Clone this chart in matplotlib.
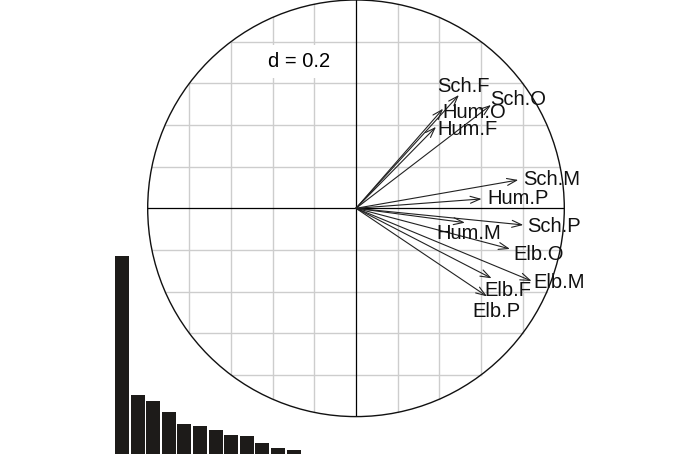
import matplotlib
matplotlib.use("Agg")
import matplotlib.pyplot as plt
import numpy as np
from matplotlib.patches import Circle, FancyArrowPatch

plt.rcParams['font.family'] = ['Liberation Sans', 'DejaVu Sans']

# variable loadings (correlation circle)
noms = ["Sch.F", "Hum.O", "Hum.F", "Sch.O", "Sch.M", "Hum.P",
        "Sch.P", "Hum.M", "Elb.O", "Elb.M", "Elb.F", "Elb.P"]
cs1 = [0.494, 0.418, 0.384, 0.648, 0.779, 0.603,
       0.803, 0.523, 0.739, 0.843, 0.651, 0.629]
cs2 = [0.544, 0.478, 0.391, 0.496, 0.136, 0.045,
       -0.080, -0.069, -0.195, -0.349, -0.336, -0.423]

# valeurs propres
eig = [4.85, 1.44, 1.29, 1.02, 0.73, 0.68, 0.58, 0.46, 0.43, 0.26, 0.15, 0.11]

grille = 0.2

# placement des etiquettes : (alignement, dx, dy) en pixels, dy vers le bas
pos_etiq = {
    "Sch.F": ("center", 4, -8), "Hum.O": ("left", -1, 4),
    "Hum.F": ("left", 1, 3), "Sch.O": ("left", -1, -5),
    "Sch.M": ("left", 5, 0), "Hum.P": ("left", 6, 0),
    "Sch.P": ("left", 4, 2), "Hum.M": ("center", 4, 11),
    "Elb.O": ("left", 3, 6), "Elb.M": ("left", 2, 2),
    "Elb.F": ("left", -7, 12), "Elb.P": ("center", 9, 15),
}

W, H = 698, 454
fig = plt.figure(figsize=(W / 100, H / 100), dpi=100)

cx, cy, r = 356, 454 - 208.3, 208.3
ax = fig.add_axes([(cx - r) / W, (cy - r) / H, 2 * r / W, 2 * r / H])
ax.set_xlim(-1, 1)
ax.set_ylim(-1, 1)
ax.axis('off')

# grille limitee au cercle
for v in np.arange(-0.8, 0.81, grille):
    if abs(v) < 1e-9:
        continue
    h = np.sqrt(1 - v ** 2)
    ax.plot([v, v], [-h, h], color='#cdcdcd', lw=1.0, zorder=1)
    ax.plot([-h, h], [v, v], color='#cdcdcd', lw=1.0, zorder=1)

ax.plot([-1, 1], [0, 0], color='black', lw=0.9, zorder=2)
ax.plot([0, 0], [-1, 1], color='black', lw=0.9, zorder=2)
ax.add_patch(Circle((0, 0), 1, fill=False, ec='#111111', lw=1.0, clip_on=False, zorder=3))

ax.text(-0.275, 0.704, "d = 0.2", fontsize=14.5, ha='center', va='center', zorder=4,
        bbox=dict(facecolor='white', edgecolor='none', pad=5))

for nom, x, y in zip(noms, cs1, cs2):
    fl = FancyArrowPatch((0, 0), (x, y), arrowstyle='->,head_length=0.7,head_width=0.25',
                         mutation_scale=10, lw=0.8, color='#222222',
                         shrinkA=0, shrinkB=0, zorder=5)
    ax.add_patch(fl)
    ha, dx, dy = pos_etiq[nom]
    ax.annotate(nom, (x, y), xytext=(dx, -dy), textcoords='offset pixels',
                ha=ha, va='center', fontsize=14.5, color='#111111', zorder=6)

# histogramme des valeurs propres
pas = 15.6
bx = fig.add_axes([114.2 / W, 0, len(eig) * pas / W, 198.3 / H])
bx.bar(np.arange(len(eig)), eig, width=0.9, color='#1d1b19')
bx.set_xlim(-0.5, len(eig) - 0.5)
bx.set_ylim(0, max(eig))
bx.axis('off')

plt.savefig("out.png", dpi=100)
plt.close()
